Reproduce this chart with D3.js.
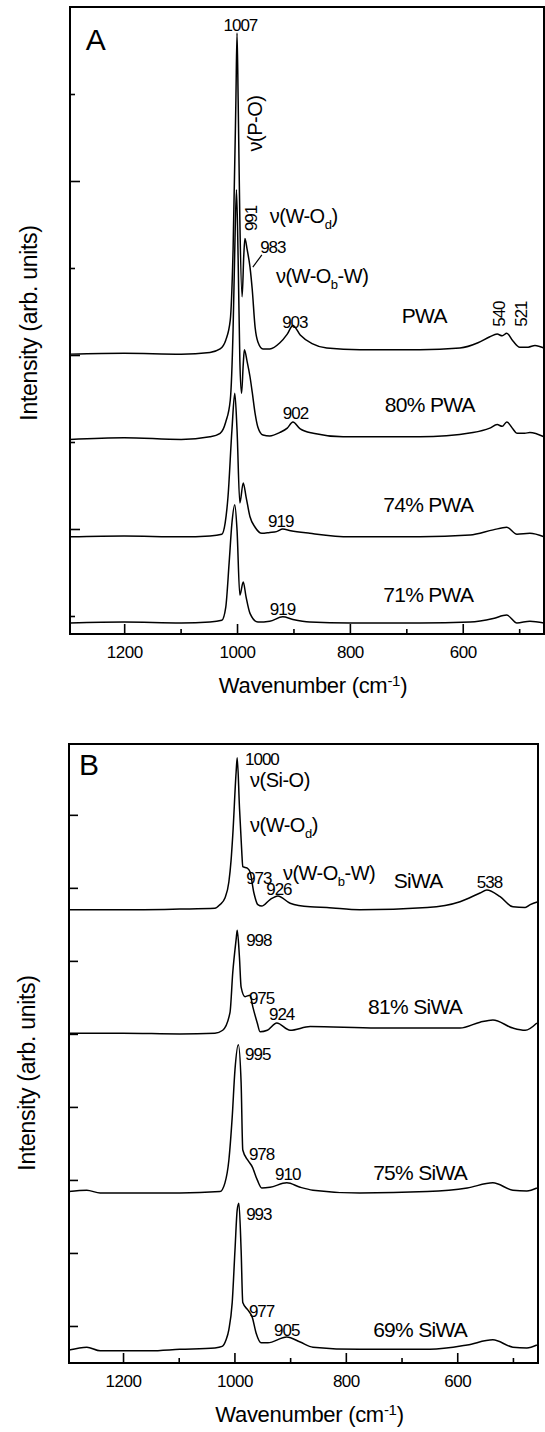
<!DOCTYPE html>
<meta charset="utf-8">
<style>
  body { margin: 0; background: #fff; }
  svg text { font-family: "Liberation Sans", Arial, Helvetica, sans-serif; fill: #000; }
  .spec { fill: none; stroke: #000; stroke-width: 1.5px; stroke-linejoin: round; }
  .frame { fill: none; stroke: #000; stroke-width: 2px; }
  .axis line { stroke: #000; stroke-width: 1.6px; }
  .axis text { font-size: 17px; letter-spacing: -0.5px; }
</style>
<svg width="545" height="1432"></svg>
<script src="https://d3js.org/d3.v7.min.js"></script>
<script>
  // wavenumber ticks (cm-1)
  var majorTicks = [1200, 1000, 800, 600];
  var minorTicks = [1100, 900, 700, 500];

  // panel A, [wavenumber, intensity] (offset stacked, arb. units)
  var pwa = [
    [1296, 3.01], [1200, 3.02], [1099, 3.01], [1048, 3.03], [1030, 3.07], [1020, 3.17],
    [1012, 3.40], [1007, 4.21], [1002, 5.93], [1000, 6.70], [998, 5.93], [995, 4.55],
    [991, 3.67], [988, 4.15], [986, 4.34], [982, 4.21], [977, 4.01], [973, 3.75],
    [968, 3.32], [963, 3.15], [954, 3.07], [942, 3.07], [924, 3.14], [911, 3.24],
    [901, 3.34], [888, 3.23], [867, 3.13], [841, 3.08], [782, 3.06], [676, 3.06],
    [605, 3.08], [573, 3.14], [552, 3.21], [539, 3.24], [530, 3.22], [522, 3.25],
    [511, 3.16], [499, 3.09], [484, 3.09], [472, 3.11], [456, 3.08]
  ];
  var pwa80 = [
    [1296, 2.03], [1200, 2.05], [1099, 2.03], [1048, 2.06], [1030, 2.10], [1020, 2.23],
    [1012, 2.48], [1007, 3.29], [1004, 4.21], [1001, 4.90], [998, 4.09], [995, 2.94],
    [992, 2.56], [989, 2.89], [987, 3.06], [982, 2.92], [977, 2.75], [973, 2.57],
    [968, 2.33], [963, 2.17], [954, 2.08], [942, 2.07], [924, 2.11], [911, 2.16],
    [901, 2.23], [888, 2.15], [865, 2.10], [812, 2.06], [676, 2.06], [582, 2.11],
    [552, 2.16], [539, 2.20], [530, 2.18], [522, 2.23], [511, 2.15], [504, 2.10],
    [490, 2.10], [481, 2.11], [456, 2.06]
  ];
  var pwa74 = [
    [1296, 0.91], [1200, 0.92], [1099, 0.91], [1048, 0.92], [1027, 0.94], [1021, 1.07],
    [1016, 1.37], [1009, 2.14], [1004, 2.56], [1000, 2.14], [995, 1.30], [989, 1.53],
    [984, 1.37], [977, 1.14], [968, 1.02], [956, 0.95], [942, 0.96], [930, 0.97],
    [919, 1.00], [905, 0.98], [871, 0.95], [800, 0.91], [676, 0.91], [587, 0.93],
    [546, 0.99], [522, 1.02], [504, 0.94], [481, 0.95], [456, 0.91]
  ];
  var pwa71 = [
    [1296, -0.08], [1200, -0.07], [1099, -0.08], [1048, -0.07], [1027, -0.05], [1020, 0.10],
    [1014, 0.61], [1009, 1.07], [1004, 1.28], [1000, 0.99], [995, 0.24], [989, 0.39],
    [984, 0.22], [977, 0.03], [963, -0.07], [942, -0.06], [919, -0.01], [901, -0.04],
    [871, -0.07], [800, -0.08], [676, -0.08], [587, -0.07], [546, -0.03], [522, 0.01],
    [504, -0.08], [481, -0.06], [456, -0.08]
  ];

  // panel B
  var siwa = [
    [1297, 5.70], [1200, 5.70], [1098, 5.71], [1035, 5.72], [1026, 5.77], [1017, 5.86],
    [1010, 6.08], [1006, 6.38], [1003, 6.72], [997, 7.58], [995, 7.78], [991, 7.11],
    [987, 6.52], [985, 6.29], [977, 6.27], [972, 6.22], [965, 5.93], [958, 5.77],
    [951, 5.75], [936, 5.84], [922, 5.89], [900, 5.79], [864, 5.74], [834, 5.73],
    [775, 5.70], [654, 5.73], [595, 5.81], [559, 5.93], [547, 5.97], [523, 5.88],
    [500, 5.74], [478, 5.73], [469, 5.77], [455, 5.81]
  ];
  var siwa81 = [
    [1297, 4.01], [1200, 4.01], [1098, 4.00], [1035, 4.01], [1021, 4.05], [1008, 4.29],
    [1003, 4.84], [997, 5.29], [995, 5.42], [991, 5.05], [988, 4.64], [981, 4.51],
    [972, 4.53], [967, 4.37], [959, 4.15], [954, 4.03], [941, 4.05], [924, 4.15],
    [900, 4.05], [864, 4.10], [744, 4.08], [595, 4.08], [559, 4.16], [536, 4.19],
    [500, 4.08], [478, 4.05], [457, 4.15]
  ];
  var siwa75 = [
    [1297, 1.84], [1265, 1.86], [1241, 1.82], [1200, 1.82], [1098, 1.82], [1026, 1.84],
    [1017, 1.96], [1010, 2.27], [1004, 2.86], [999, 3.51], [993, 3.85], [988, 3.33],
    [985, 2.41], [976, 2.27], [968, 2.18], [959, 2.00], [951, 1.89], [936, 1.90],
    [906, 1.96], [882, 1.90], [859, 1.86], [775, 1.82], [654, 1.84], [582, 1.89],
    [536, 1.96], [500, 1.86], [475, 1.85], [457, 1.89]
  ];
  var siwa69 = [
    [1297, -0.33], [1265, -0.29], [1241, -0.34], [1152, -0.34], [1098, -0.32], [1035, -0.30],
    [1022, -0.28], [1015, -0.19], [1010, -0.05], [1004, 0.32], [999, 1.04], [995, 1.59],
    [992, 1.68], [988, 1.04], [985, 0.32], [976, 0.22], [968, 0.12], [961, -0.10],
    [952, -0.23], [940, -0.23], [906, -0.15], [882, -0.22], [859, -0.29], [775, -0.32],
    [649, -0.32], [582, -0.26], [536, -0.19], [500, -0.29], [475, -0.30], [457, -0.26]
  ];

  // annotations: [text, wavenumber, intensity, kind]
  var notesA = [
    ["A", 1268, 6.51, "panel"],
    ["1007", 994, 6.72, "peakMid"],
    ["ν(P-O)", 956, 5.66, "modeRot"],
    ["991", 965, 4.57, "peakRot"],
    ["983", 959, 4.17, "peak"],
    ["ν(W-O_d)", 942, 4.52, "mode"],
    ["ν(W-O_b-W)", 931, 3.83, "mode"],
    ["903", 920, 3.31, "peak"],
    ["PWA", 708, 3.37, "sample"],
    ["540", 525, 3.47, "peakRot"],
    ["521", 486, 3.47, "peakRot"],
    ["80% PWA", 738, 2.34, "sample"],
    ["902", 919, 2.26, "peak"],
    ["74% PWA", 741, 1.20, "sample"],
    ["919", 945, 1.02, "peak"],
    ["71% PWA", 741, 0.16, "sample"],
    ["919", 942, 0.01, "peak"]
  ];
  var notesB = [
    ["B", 1279, 7.55, "panel"],
    ["1000", 981, 7.68, "peak"],
    ["ν(Si-O)", 972, 7.38, "mode"],
    ["ν(W-O_d)", 972, 6.77, "mode"],
    ["973", 979, 6.05, "peak"],
    ["ν(W-O_b-W)", 913, 6.11, "mode"],
    ["926", 943, 5.90, "peak"],
    ["SiWA", 714, 6.00, "sample"],
    ["538", 565, 6.00, "peak"],
    ["998", 979, 5.21, "peak"],
    ["975", 974, 4.41, "peak"],
    ["924", 938, 4.19, "peak"],
    ["81% SiWA", 760, 4.27, "sample"],
    ["995", 981, 3.64, "peak"],
    ["978", 974, 2.27, "peak"],
    ["910", 927, 2.00, "peak"],
    ["75% SiWA", 751, 2.00, "sample"],
    ["993", 979, 1.45, "peak"],
    ["977", 974, 0.12, "peak"],
    ["905", 929, -0.14, "peak"],
    ["69% SiWA", 751, -0.15, "sample"]
  ];

  var svg = d3.select("svg");

  var styles = {
    panel: { size: 30, ls: 0 },
    peak: { size: 17, ls: -1 },
    peakMid: { size: 17, ls: -1 },
    peakRot: { size: 17, ls: -1 },
    mode: { size: 20, ls: -0.5 },
    modeRot: { size: 20, ls: -0.5 },
    sample: { size: 21, ls: -0.7 }
  };

  function drawPanel(p) {
    var x = d3.scaleLinear().domain(p.xDomain).range([p.left, p.right]);
    var y = d3.scaleLinear().domain(p.yDomain).range([p.bottom, p.top]);
    var g = svg.append("g");

    var line = d3.line()
      .x(function(d) { return x(d[0]); })
      .y(function(d) { return y(d[1]); })
      .curve(d3.curveMonotoneX);

    g.selectAll(".spec")
      .data(p.spectra)
      .enter().append("path")
      .attr("class", "spec")
      .attr("d", line);

    // bottom axis, ticks pointing inward
    g.append("g")
      .attr("class", "axis")
      .attr("transform", "translate(0," + p.bottom + ")")
      .call(d3.axisBottom(x).tickValues(majorTicks).tickFormat(d3.format("d"))
        .tickSizeInner(-10).tickSizeOuter(0).tickPadding(12))
      .call(function(a) { a.select(".domain").remove(); });
    g.append("g")
      .attr("class", "axis")
      .attr("transform", "translate(0," + p.bottom + ")")
      .call(d3.axisBottom(x).tickValues(minorTicks).tickSize(-5).tickFormat(""))
      .call(function(a) { a.select(".domain").remove(); });

    // left axis, no labels
    g.append("g")
      .attr("class", "axis")
      .attr("transform", "translate(" + p.left + ",0)")
      .call(d3.axisLeft(y).tickValues(p.yMajor).tickSize(-p.majorLen).tickFormat(""))
      .call(function(a) { a.select(".domain").remove(); });
    if (p.yMinor.length) {
      g.append("g")
        .attr("class", "axis")
        .attr("transform", "translate(" + p.left + ",0)")
        .call(d3.axisLeft(y).tickValues(p.yMinor).tickSize(-5).tickFormat(""))
        .call(function(a) { a.select(".domain").remove(); });
    }

    g.append("rect")
      .attr("class", "frame")
      .attr("x", p.left)
      .attr("y", p.top)
      .attr("width", p.right - p.left)
      .attr("height", p.bottom - p.top);

    // annotations
    p.notes.forEach(function(n) {
      var st = styles[n[3]];
      var px = x(n[1]), py = y(n[2]);
      var t = g.append("text")
        .attr("font-size", st.size + "px")
        .attr("letter-spacing", st.ls + "px");
      if (n[3] == "peakRot" || n[3] == "modeRot") {
        t.attr("transform", "translate(" + px + "," + py + ") rotate(-90)")
          .attr("text-anchor", "middle");
      } else {
        t.attr("x", px).attr("y", py);
        if (n[3] == "peakMid") t.attr("text-anchor", "middle");
      }
      var parts = n[0].split(/_(.)/);
      parts.forEach(function(s, i) {
        if (!s) return;
        if (i % 2 == 1) {
          t.append("tspan").attr("dy", 6).attr("font-size", "13px").text(s);
        } else {
          var ts = t.append("tspan").text(s);
          if (i > 0) ts.attr("dy", -6);
        }
      });
    });

    if (p.leader) {
      g.append("line")
        .attr("x1", x(p.leader[0][0])).attr("y1", y(p.leader[0][1]))
        .attr("x2", x(p.leader[1][0])).attr("y2", y(p.leader[1][1]))
        .attr("stroke", "#000").attr("stroke-width", 1.2);
    }

    // axis titles
    var xt = g.append("text")
      .attr("x", (p.left + p.right) / 2 + 6)
      .attr("y", p.bottom + 59)
      .attr("text-anchor", "middle")
      .attr("font-size", "22px")
      .attr("letter-spacing", "-0.3px");
    xt.append("tspan").text("Wavenumber (cm");
    xt.append("tspan").attr("font-size", "15px").attr("dy", -7).text("-1");
    xt.append("tspan").attr("dy", 7).text(")");

    g.append("text")
      .attr("transform", "translate(" + p.titleX + "," + p.titleY + ") rotate(-90)")
      .attr("text-anchor", "middle")
      .attr("font-size", "23px")
      .attr("letter-spacing", "-0.3px")
      .text("Intensity (arb. units)");
  }

  drawPanel({
    left: 70, right: 544, top: 7, bottom: 634,
    xDomain: [1296, 456], yDomain: [-0.207, 7.0],
    yMajor: [1, 3, 5], yMinor: [0, 2, 4, 6], majorLen: 10,
    spectra: [pwa, pwa80, pwa74, pwa71],
    notes: notesA,
    leader: [[972, 4.01], [956, 4.15]],
    titleX: 37, titleY: 323
  });

  drawPanel({
    left: 69, right: 538, top: 744, bottom: 1363,
    xDomain: [1297, 455], yDomain: [-0.507, 7.97],
    yMajor: [0, 1, 2, 3, 4, 5, 6, 7], yMinor: [], majorLen: 9,
    spectra: [siwa, siwa81, siwa75, siwa69],
    notes: notesB,
    leader: null,
    titleX: 35, titleY: 1073
  });
</script>
